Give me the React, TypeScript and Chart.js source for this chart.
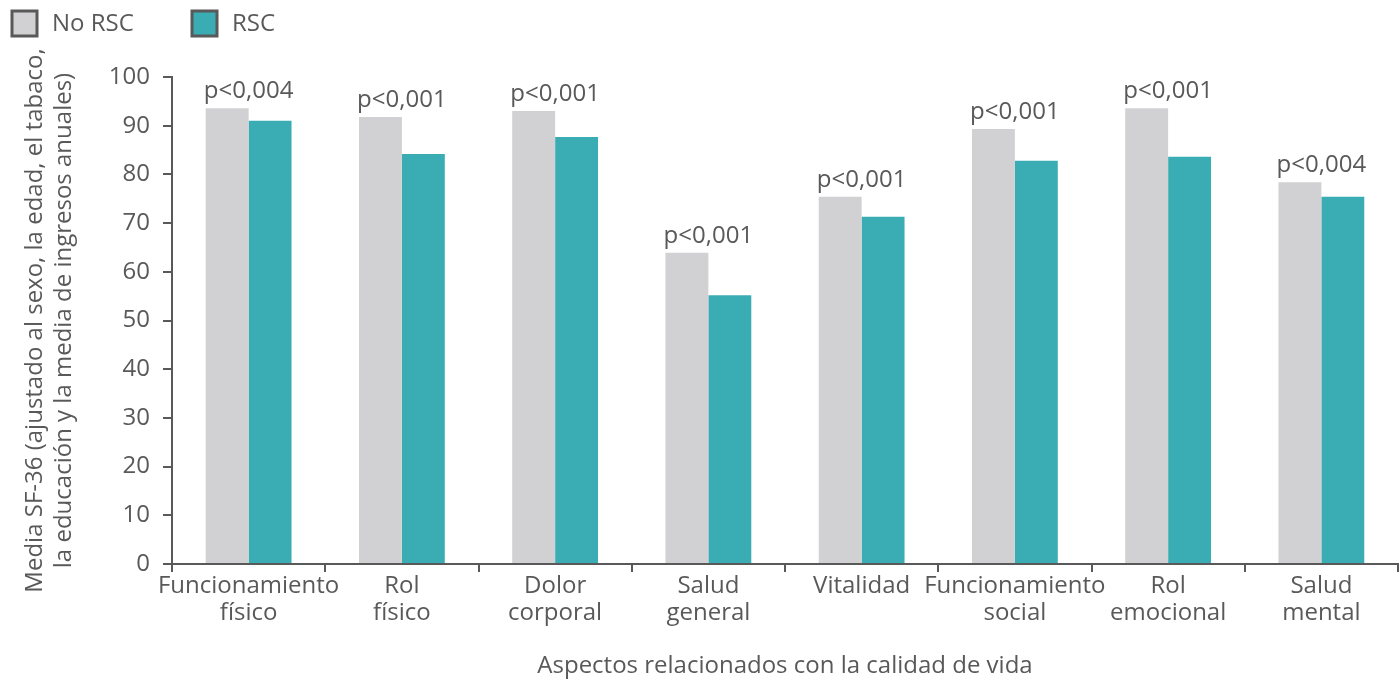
import { useEffect, useRef } from "react";
import { Chart, registerables } from "chart.js";

Chart.register(...registerables);

const categories: string[][] = [
  ["Funcionamiento", "físico"],
  ["Rol", "físico"],
  ["Dolor", "corporal"],
  ["Salud", "general"],
  ["Vitalidad"],
  ["Funcionamiento", "social"],
  ["Rol", "emocional"],
  ["Salud", "mental"],
];
const seriesNames = ["No RSC", "RSC"];
const noRscValues = [93.6, 91.8, 93.0, 63.9, 75.4, 89.3, 93.6, 78.4];
const rscValues = [91.0, 84.2, 87.7, 55.2, 71.3, 82.8, 83.6, 75.4];
const pValues = ["p<0,004", "p<0,001", "p<0,001", "p<0,001", "p<0,001", "p<0,001", "p<0,001", "p<0,004"];
const yTitleLines = [
  "Media SF-36 (ajustado al sexo, la edad, el tabaco,",
  "la educación y la media de ingresos anuales)",
];
const xTitle = "Aspectos relacionados con la calidad de vida";

const GRAY = "#d1d1d3";
const TEAL = "#3aacb4";
const TEXT = "#595959";
const FONT = "'Open Sans', sans-serif";

const pLabelPlugin = {
  id: "pLabels",
  afterDatasetsDraw(chart: any) {
    const ctx = chart.ctx;
    const m0 = chart.getDatasetMeta(0);
    const m1 = chart.getDatasetMeta(1);
    ctx.save();
    ctx.font = `24px ${FONT}`;
    ctx.fillStyle = TEXT;
    ctx.textAlign = "center";
    ctx.textBaseline = "alphabetic";
    pValues.forEach((p, i) => {
      const b0 = m0.data[i];
      const b1 = m1.data[i];
      const x = (b0.x + b1.x) / 2;
      ctx.fillText(p, x, b0.y - 10);
    });
    ctx.restore();
  },
};

const legendPlugin = {
  id: "customLegend",
  afterDraw(chart: any) {
    const ctx = chart.ctx;
    const colors = [GRAY, TEAL];
    const starts = [12, 192];
    ctx.save();
    ctx.font = `24px ${FONT}`;
    ctx.textBaseline = "middle";
    ctx.textAlign = "left";
    seriesNames.forEach((name, i) => {
      const x = starts[i];
      ctx.fillStyle = colors[i];
      ctx.fillRect(x, 11, 25, 25);
      ctx.strokeStyle = TEXT;
      ctx.lineWidth = 3;
      ctx.strokeRect(x, 11, 25, 25);
      ctx.fillStyle = TEXT;
      ctx.fillText(name, x + 40, 24);
    });
    ctx.restore();
  },
};

export default function App() {
  const ref = useRef<HTMLCanvasElement | null>(null);
  useEffect(() => {
    if (!ref.current) return;
    const chart = new Chart(ref.current, {
      type: "bar",
      data: {
        labels: categories,
        datasets: [
          { label: seriesNames[0], data: noRscValues, backgroundColor: GRAY, categoryPercentage: 0.56, barPercentage: 1 },
          { label: seriesNames[1], data: rscValues, backgroundColor: TEAL, categoryPercentage: 0.56, barPercentage: 1 },
        ],
      },
      options: {
        animation: false,
        responsive: true,
        maintainAspectRatio: false,
        layout: { padding: { top: 77, right: 2, left: 0, bottom: 0 } },
        plugins: {
          legend: { display: false },
          tooltip: { enabled: false },
        },
        scales: {
          x: {
            afterFit: (s: any) => { s.height = 117; },
            border: { color: TEXT, width: 2 },
            grid: { display: true, drawOnChartArea: false, drawTicks: true, tickLength: 8, color: TEXT, lineWidth: 2, offset: true },
            ticks: { color: TEXT, font: { family: FONT, size: 24, lineHeight: 1.15 }, maxRotation: 0, autoSkip: false, padding: 0 },
            title: { display: true, text: xTitle, color: TEXT, font: { family: FONT, size: 24, lineHeight: 1.2 }, padding: { top: 0, bottom: 0 } },
          },
          y: {
            afterFit: (s: any) => { s.width = 172; },
            min: 0,
            max: 100,
            border: { color: TEXT, width: 2 },
            grid: { display: true, drawOnChartArea: false, drawTicks: true, tickLength: 9, color: TEXT, lineWidth: 2 },
            ticks: { stepSize: 10, color: TEXT, font: { family: FONT, size: 24 }, padding: 13 },
            title: { display: true, text: yTitleLines, color: TEXT, font: { family: FONT, size: 24, lineHeight: 1.2 }, padding: { top: 21, bottom: 0 } },
          },
        },
      },
      plugins: [pLabelPlugin, legendPlugin],
    });
    return () => chart.destroy();
  }, []);
  return (
    <div style={{ position: "fixed", left: 0, top: 0, width: 1400, height: 681, background: "#fff" }}>
      <canvas ref={ref} />
    </div>
  );
}
